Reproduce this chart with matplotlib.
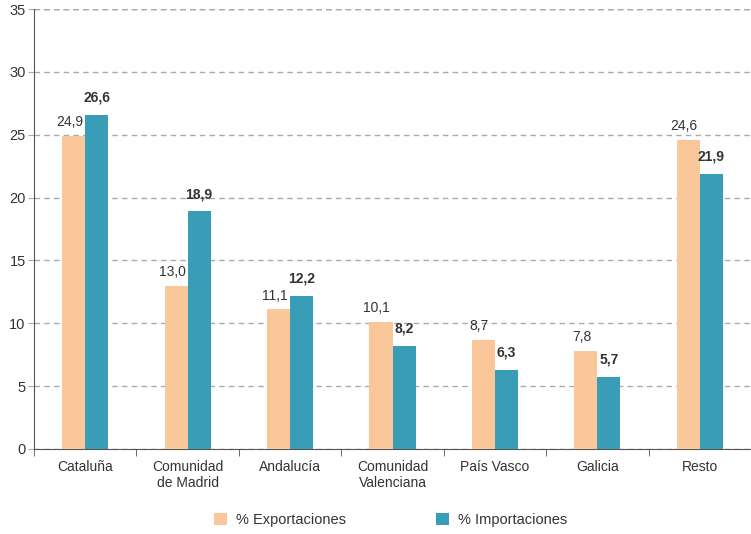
import numpy as np
import matplotlib.pyplot as plt

plt.rcParams['font.family'] = ['Liberation Sans', 'DejaVu Sans']

regiones = ['Cataluña', 'Comunidad\nde Madrid', 'Andalucía', 'Comunidad\nValenciana',
            'País Vasco', 'Galicia', 'Resto']
exportaciones = [24.9, 13.0, 11.1, 10.1, 8.7, 7.8, 24.6]
importaciones = [26.6, 18.9, 12.2, 8.2, 6.3, 5.7, 21.9]

c_exp = '#FAC79B'
c_imp = '#3A9DB7'
txt = '#333333'

fig = plt.figure(figsize=(7.51, 5.34), dpi=100)
ax = fig.add_axes([0.0453, 0.1592, 0.9547, 0.8238])

x = np.arange(len(regiones))
w = 0.225
b1 = ax.bar(x - w / 2, exportaciones, w, color=c_exp, label='% Exportaciones', zorder=3)
b2 = ax.bar(x + w / 2, importaciones, w, color=c_imp, label='% Importaciones', zorder=3)

fmt = lambda v: f'{v:.1f}'.replace('.', ',')
for r, v in zip(b1, exportaciones):
    ax.annotate(fmt(v), (r.get_x() + r.get_width() / 2, v), xytext=(-3, 5),
                textcoords='offset points', ha='center', va='bottom', fontsize=10, color=txt)
for r, v in zip(b2, importaciones):
    ax.annotate(fmt(v), (r.get_x() + r.get_width() / 2, v), xytext=(0, 7.5),
                textcoords='offset points', ha='center', va='bottom', fontsize=10,
                color=txt, fontweight='bold')

ax.set_xlim(-0.5, len(regiones) - 0.5)
ax.set_ylim(0, 35)
ax.set_yticks(np.arange(0, 36, 5))
ax.yaxis.grid(True, linestyle=(0, (4, 3)), color='#aaaaaa', linewidth=1, zorder=0)
ax.axhline(35, linestyle=(0, (4, 3)), color='#777777', linewidth=1, zorder=1)
ax.set_xticks(x)
ax.set_xticklabels(regiones, fontsize=10, color=txt, linespacing=1.15)
ax.set_xticks(np.arange(-0.5, len(regiones), 1), minor=True)
ax.tick_params(axis='x', which='major', length=0, pad=8)
ax.tick_params(axis='x', which='minor', length=5, color='#555555')
ax.tick_params(axis='y', length=4, color='#aaaaaa', labelsize=10.5, labelcolor=txt, pad=2)

for s in ['top', 'right']:
    ax.spines[s].set_visible(False)
ax.spines['left'].set_color('#555555')
ax.spines['bottom'].set_color('#555555')

fig.legend(loc='lower center', bbox_to_anchor=(0.52, -0.012), ncol=2, frameon=False,
           handlelength=0.9, handleheight=0.9, columnspacing=6.2, fontsize=10.5,
           labelcolor=txt, handletextpad=0.6)

fig.savefig('out.png', dpi=100)
